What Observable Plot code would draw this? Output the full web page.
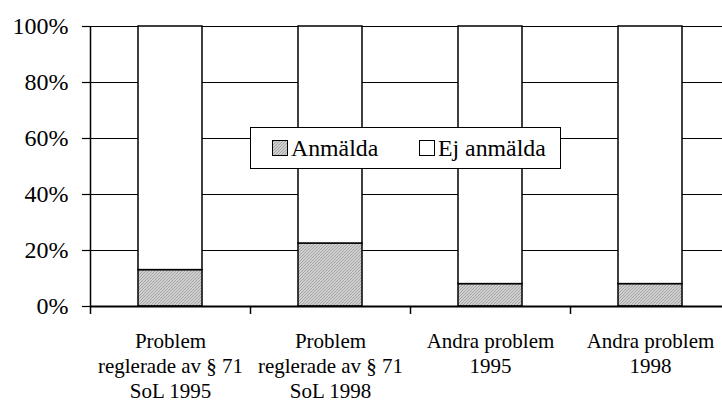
<!DOCTYPE html>
<html>
<head>
<meta charset="utf-8">
<script src="https://cdn.jsdelivr.net/npm/d3@7"></script>
<script src="https://cdn.jsdelivr.net/npm/@observablehq/plot@0.6"></script>
<style>
  body { margin: 0; background: #fff; }
  #wrap { position: relative; width: 722px; height: 408px; overflow: hidden; font-family: "Liberation Serif", "DejaVu Serif", serif; }
  #legend { position: absolute; left: 250px; top: 127px; width: 309px; height: 40px; border: 1.5px solid #000; background: #fff; font-size: 23.8px; color: #000; font-family: "Liberation Serif", "DejaVu Serif", serif; }
  .item { position: absolute; top: 0; height: 40px; display: flex; align-items: center; }
  .item svg { margin-right: 3px; display: block; }
</style>
</head>
<body>
<div id="wrap"></div>
<script>
// ---- data ----
const categories = [
  "Problem\nreglerade av § 71\nSoL 1995",
  "Problem\nreglerade av § 71\nSoL 1998",
  "Andra problem\n1995",
  "Andra problem\n1998"
];
const anmalda = [0.13, 0.225, 0.08, 0.08];          // share reported
const ejAnmalda = anmalda.map(v => 1 - v);          // remaining share (stack to 100%)
const seriesNames = ["Anmälda", "Ej anmälda"];
const yTicks = [0, 0.2, 0.4, 0.6, 0.8, 1];
const yTickLabels = ["0%", "20%", "40%", "60%", "80%", "100%"];

const rows = categories.map((c, i) => ({cat: c, a: anmalda[i], e: ejAnmalda[i]}));

const FONT = '"Liberation Serif", "DejaVu Serif", serif';
const W = 722, H = 408, mL = 90, mR = -8, mT = 26, mB = 102;
const step = (W - mL - mR) / categories.length;

const plot = Plot.plot({
  width: W,
  height: H,
  marginLeft: mL,
  marginRight: mR,
  marginTop: mT,
  marginBottom: mB,
  style: { fontFamily: FONT, fontSize: "21px", color: "#000", background: "#fff", overflow: "visible" },
  x: { domain: categories, paddingInner: 0.6, paddingOuter: 0.3, axis: null, label: null },
  y: { domain: [0, 1], axis: null, label: null },
  marks: [
    // horizontal gridlines
    Plot.ruleY(yTicks.filter(d => d > 0), { stroke: "#000", strokeWidth: 1.2 }),
    // y axis ticks and labels
    Plot.axisY({
      ticks: yTicks,
      tickFormat: (d) => yTickLabels[yTicks.indexOf(d)],
      tickSize: 8,
      tickPadding: 14,
      fontSize: 24,
      label: null,
      stroke: "#000",
      strokeWidth: 1.2
    }),
    // bars: reported (patterned) and not reported (white)
    Plot.barY(rows, { x: "cat", y1: 0, y2: "a", fill: "url(#hatch)", stroke: "#000", strokeWidth: 1.5 }),
    Plot.barY(rows, { x: "cat", y1: "a", y2: 1, fill: "#fff", stroke: "#000", strokeWidth: 1.5 }),
    // baseline
    Plot.ruleY([0], { stroke: "#000", strokeWidth: 2 }),
    // left axis line
    Plot.ruleX([categories[0]], { x: d => d, dx: -step / 2, y1: 0, y2: 1, stroke: "#000", strokeWidth: 1.5 }),
    // category boundary ticks
    Plot.ruleX(categories, { x: d => d, dx: -step / 2, y1: 0, y2: 0, insetBottom: -8, stroke: "#000", strokeWidth: 1.5 }),
    // category labels
    Plot.text(categories, {
      x: d => d,
      text: d => d,
      frameAnchor: "bottom",
      lineAnchor: "top",
      textAnchor: "middle",
      lineHeight: 1.19,
      dy: 24,
      fontSize: 21,
      fill: "#000"
    })
  ]
});

// pattern definition for the "Anmälda" fill
const svgNS = "http://www.w3.org/2000/svg";
function addPattern(svg) {
  const defs = document.createElementNS(svgNS, "defs");
  defs.innerHTML = `<pattern id="hatch" patternUnits="userSpaceOnUse" width="3" height="3">
      <rect width="3" height="3" fill="#d0d0d0"/>
      <path d="M0,3 L3,0 M-1,1 L1,-1 M2,4 L4,2" stroke="#a0a0a0" stroke-width="0.9"/>
    </pattern>`;
  svg.insertBefore(defs, svg.firstChild);
}
addPattern(plot);

const wrap = document.getElementById("wrap");
wrap.appendChild(plot);

// legend (inside the plot area, as in the original)
const legend = document.createElement("div");
legend.id = "legend";
const swatchFills = ["url(#hatch)", "#fff"];
const itemLeft = [21, 168];
seriesNames.forEach((name, i) => {
  const item = document.createElement("div");
  item.className = "item";
  item.style.left = itemLeft[i] + "px";
  item.innerHTML = `<svg width="16" height="16"><rect x="0.5" y="0.5" width="15" height="15" fill="${swatchFills[i]}" stroke="#000" stroke-width="1"/></svg><span>${name}</span>`;
  legend.appendChild(item);
});
wrap.appendChild(legend);
</script>
</body>
</html>
